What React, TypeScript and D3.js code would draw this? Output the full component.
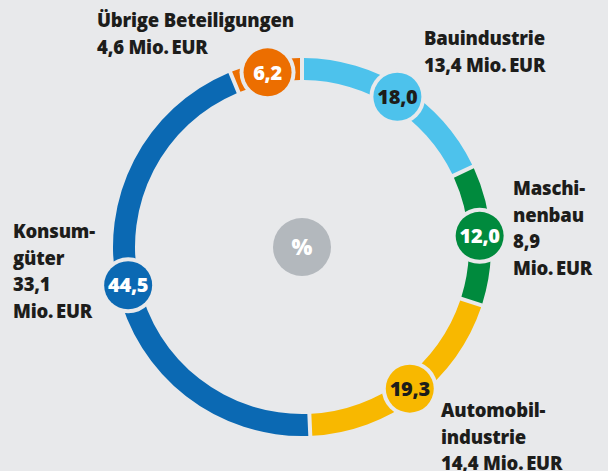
import React from "react";
import * as d3 from "d3";

const categories = ["Bauindustrie", "Maschinenbau", "Automobilindustrie", "Konsumgüter", "Übrige Beteiligungen"];
const shares = [18.0, 12.0, 19.3, 44.5, 6.2];
const shareLabels = ["18,0", "12,0", "19,3", "44,5", "6,2"];
const colors = ["#4dc2ec", "#008a3d", "#f8b800", "#0b69b3", "#ec6e00"];
const badgeTextColors = ["#1d1d1b", "#ffffff", "#1d1d1b", "#ffffff", "#ffffff"];
const labelLines = [
  ["Bauindustrie", "13,4 Mio.\u2009EUR"],
  ["Maschi-", "nenbau", "8,9", "Mio.\u2009EUR"],
  ["Automobil-", "industrie", "14,4 Mio.\u2009EUR"],
  ["Konsum-", "güter", "33,1", "Mio.\u2009EUR"],
  ["Übrige Beteiligungen", "4,6 Mio.\u2009EUR"],
];
const labelAnchors = [
  { x: 424, y: 45 },
  { x: 513, y: 195 },
  { x: 441, y: 417 },
  { x: 13, y: 238 },
  { x: 97, y: 27 },
];

const W = 608;
const H = 471;
const BG = "#e8e9eb";
const cx = 302;
const cy = 247;
const rOuter = 189;
const rInner = 167;
const rMid = (rOuter + rInner) / 2;
const badgeR = 24;
const gap = 4;
const lineH = 26.7;
const font = "'Open Sans', 'DejaVu Sans', sans-serif";

export default function App() {
  const pie = d3
    .pie<number>()
    .sort(null)
    .value((d) => d)
    .startAngle(0)
    .endAngle(2 * Math.PI);
  const arcs = pie(shares);
  const arc = d3
    .arc<d3.PieArcDatum<number>>()
    .innerRadius(rInner)
    .outerRadius(rOuter)
    .padAngle(gap / rMid)
    .padRadius(rMid);

  return (
    <div style={{ position: "fixed", left: 0, top: 0, width: W, height: H, background: BG }}>
      <svg width={W} height={H} style={{ display: "block" }}>
        <rect width={W} height={H} fill={BG} />
        <g transform={`translate(${cx},${cy})`}>
          {arcs.map((a, i) => (
            <path key={"s" + i} d={arc(a) || ""} fill={colors[i]} />
          ))}
          {arcs.map((a, i) => {
            const m = (a.startAngle + a.endAngle) / 2;
            const x = rMid * Math.sin(m);
            const y = -rMid * Math.cos(m);
            return (
              <g key={"b" + i} transform={`translate(${x},${y})`}>
                <circle r={badgeR + gap} fill={BG} />
                <circle r={badgeR} fill={colors[i]} />
                <text
                  textAnchor="middle"
                  dy="0.36em"
                  fontFamily={font}
                  fontWeight={800}
                  fontSize={20}
                  letterSpacing={-0.3}
                  fill={badgeTextColors[i]}
                >
                  {shareLabels[i]}
                </text>
              </g>
            );
          })}
          <circle r={29} fill="#b3b8bd" />
          <text textAnchor="middle" dy="0.36em" fontFamily={font} fontWeight={800} fontSize={22} fill="#ffffff">
            %
          </text>
        </g>
        {labelLines.map((lines, i) => (
          <text
            key={"l" + i}
            x={labelAnchors[i].x}
            y={labelAnchors[i].y}
            fontFamily={font}
            fontWeight={800}
            fontSize={18.5}
            letterSpacing={-0.2}
            fill="#1d1d1b"
            aria-label={categories[i]}
          >
            {lines.map((t, j) => (
              <tspan key={j} x={labelAnchors[i].x} y={labelAnchors[i].y + j * lineH}>
                {t}
              </tspan>
            ))}
          </text>
        ))}
      </svg>
    </div>
  );
}
